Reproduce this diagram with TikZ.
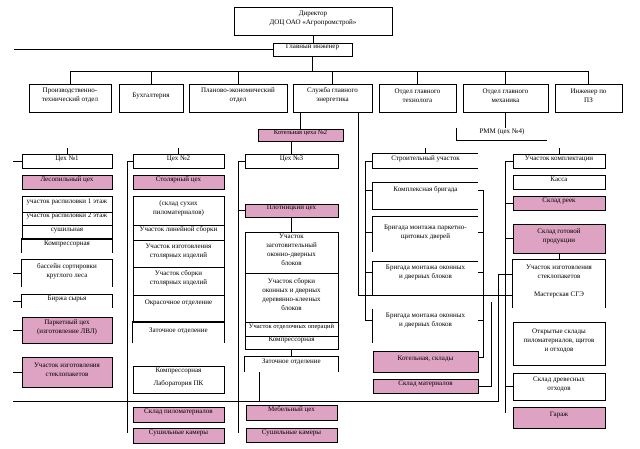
\documentclass[tikz,border=0pt]{standalone}
\usepackage{fontspec}
\setmainfont{Liberation Serif}
\usetikzlibrary{fit}
\definecolor{pinkbox}{RGB}{222,162,194}
\newcommand\opnbot[1]{\draw (#1.south west) -- (#1.north west) -- (#1.north east) -- (#1.south east);}
\newcommand\opnright[1]{\draw (#1.north east) -- (#1.north west) -- (#1.south west) -- (#1.south east);}
\newcommand\opnrb[1]{\draw (#1.north east) -- (#1.north west) -- (#1.south west);}
\newcommand\lside[1]{\draw (#1.north west) -- (#1.south west);}
\begin{document}
\begin{tikzpicture}[x=1pt,y=-1pt,line width=0.85pt,
  font=\fontsize{7}{9}\selectfont,
  bx/.style={draw,fill=white,inner sep=0pt,align=center},
  pk/.style={bx,fill=pinkbox},
  nb/.style={inner sep=0pt,align=center},
  tx/.style={inner sep=0pt,align=center}]
\fill[white] (0,0) rectangle (640,448);
\useasboundingbox (0,0) rectangle (640,448);

% ---------- top ----------
\node[bx,fit={(234,7)(392,35)}] (dir) {Директор\\ДОЦ ОАО «Агропромстрой»};
\node[bx,fit={(273,43)(352,56)}] (gi) {Главный инженер};

\node[bx,fit={(29,84)(111,112)}] (pto) {Производственно-\\технический отдел};
\node[bx,fit={(119,84)(183,112)}] (buh) {Бухгалтерия};
\node[bx,fit={(189,84)(287,112)}] (peo) {Планово-экономический\\отдел};
\node[bx,fit={(293,84)(372,112)}] (sge) {Служба главного\\энергетика};
\node[bx,fit={(379,84)(456,112)}] (ogt) {Отдел главного\\технолога};
\node[bx,fit={(463,84)(548,112)}] (ogm) {Отдел главного\\механика};
\node[bx,fit={(555,84)(622,112)}] (ipz) {Инженер по\\ПЗ};

\coordinate (busy) at (0,71);
\coordinate (lft) at (14,49);
\draw (dir.south) -- (dir.south |- gi.north);
\draw (gi.south) -- (gi.south |- busy);
\draw (gi.west) -- (gi.west -| lft);
\draw (pto.north) -- (pto.north |- busy) -- (ipz.north |- busy) -- (ipz.north);
\foreach \n in {buh,peo,sge,ogt,ogm} \draw (\n.north) -- (\n.north |- busy);

% ---------- column 1 ----------
\node[bx,fit={(22,154)(112,168)}] (c1) {Цех №1};
\node[pk,fit={(22,175)(112,189)}] (les) {Лесопильный цех};
\node[bx,fit={(22,196)(112,212)}] (r11) {участок распиловки 1 этаж};
\node[bx,fit={(22,212)(112,225)}] (r12) {участок распиловки 2 этаж};
\node[bx,fit={(22,225)(112,239)}] (r13) {сушильная};
\node[nb,fit={(22,239)(112,253)}] (r14) {Компрессорная};
\opnbot{r14}
\node[nb,fit={(22,260)(112,287)}] (bas) {бассейн сортировки\\круглого леса};
\opnbot{bas}
\node[nb,fit={(22,295)(112,308)}] (bir) {Биржа сырья};
\opnbot{bir}
\node[pk,fit={(22,317)(112,343)}] (park) {Паркетный цех\\(изготовление ЛВЛ)};
\node[pk,fit={(22,357)(112,387)}] (stp1) {Участок изготовления\\стеклопакетов};

\coordinate (lb) at (13,0);
\draw (c1.north) -- ++(0,-6);
\foreach \n in {c1,bas,bir,park,stp1} \draw (\n.west) -- (\n.west -| lb);

% ---------- column 2 ----------
\node[bx,fit={(133,154)(224,168)}] (c2) {Цех №2};
\node[pk,fit={(133,175)(224,189)}] (stol) {Столярный цех};
\node[bx,fit={(133,196)(224,225)}] (g21) {(склад сухих\\пиломатериалов)};
\node[bx,fit={(133,225)(224,240)}] (g22) {Участок линейной сборки};
\node[bx,fit={(133,240)(224,267)}] (g23) {Участок изготовления\\столярных изделий};
\node[bx,fit={(133,267)(224,295)}] (g24) {Участок сборки\\столярных изделий};
\node[bx,fit={(133,295)(224,322)}] (g25) {};
\node[tx] (g25t) at (178.5,303) {Окрасочное отделение};
\node[nb,fit={(133,322)(224,343)}] (g26) {};
\opnbot{g26}
\node[tx] (g26t) at (178.5,331) {Заточное отделение};
\node[bx,fit={(133,366)(224,393)}] (komp2) {Компрессорная\\[4pt]Лаборатория ПК};
\node[pk,fit={(133,407)(224,422)}] (skp) {Склад пиломатериалов};
\node[pk,fit={(133,428)(224,443)}] (sus2) {Сушильные камеры};

\coordinate (b2end) at (127,433);
\draw (c2.north) -- ++(0,-6);
\draw (c2.west) -- (c2.west -| b2end) -- (b2end);

% ---------- column 3 ----------
\node[pk,fit={(258,129)(343,141)},font=\fontsize{6.5}{8}\selectfont] (kot2) {Котельная цеха №2};
\node[bx,fit={(245,154)(338,168)}] (c3) {Цех №3};
\node[pk,fit={(245,204)(338,217)}] (plot) {Плотницкий цех};
\node[bx,fit={(245,232)(338,273)}] (g31) {Участок\\заготовительный\\оконно-дверных\\блоков};
\node[bx,fit={(245,273)(338,322)}] (g32) {Участок сборки\\оконных и дверных\\деревянно-клееных\\блоков};
\node[bx,fit={(245,322)(338,336)},font=\fontsize{6.5}{9}\selectfont] (g33) {Участок отделочных операций};
\node[bx,fit={(245,336)(338,349)}] (g34) {Компрессорная};
\node[nb,fit={(245,357)(338,372)}] (zat3) {Заточное отделение};
\opnbot{zat3}
\node[pk,fit={(246,405)(337,420)}] (meb) {Мебельный цех};
\node[pk,fit={(246,428)(337,442)}] (sus3) {Сушильные камеры};

\coordinate (b3end) at (238,433);
\coordinate (zb) at (259,401);
\draw (kot2.north) -- (kot2.north |- sge.south);
\draw (c3.north) -- (c3.north |- kot2.south);
\draw (c3.west) -- (c3.west -| b3end) -- (b3end);
\draw (plot.west) -- (plot.west -| b3end);
\draw (plot.south) -- (plot.south |- g31.north);
\draw (g34.south) -- (g34.south |- zat3.north);
\draw (zb |- zat3.south) -- (zb);

% ---------- column 4 ----------
\node[nb,fit={(373,154)(478,168)}] (str) {Строительный участок};
\opnright{str}
\node[nb,fit={(373,183)(478,209)}] (kb) {};
\opnright{kb}
\node[tx] (kbt) at (425.5,190) {Комплексная бригада};
\node[nb,fit={(373,217)(478,252)}] (bp) {};
\opnrb{bp}
\node[tx] (bpt) at (425.5,232) {Бригада монтажа паркетно-\\щитовых дверей};
\node[nb,fit={(373,262)(478,295)}] (bo1) {};
\opnright{bo1}
\node[tx] (bo1t) at (425.5,272) {Бригада монтажа оконных\\и дверных блоков};
\node[nb,fit={(373,309)(478,343)}] (bo2) {};
\lside{bo2}
\node[tx] (bo2t) at (425.5,320) {Бригада монтажа оконных\\и дверных блоков};
\node[pk,fit={(373,351)(478,372)}] (kots) {Котельная, склады};
\node[pk,fit={(373,379)(478,393)}] (skm) {Склад материалов};

\coordinate (Fx) at (365,0);
\coordinate (Ax) at (483,0);
\draw (str.north) -- ++(0,-6);
\draw (str.west) -- (str.west -| Fx) |- (bo2t -| bo2.west);
\foreach \t/\b in {kbt/kb,bpt/bp,bo1t/bo1} \draw (\t -| \b.west) -- (\t -| Fx);
\draw (kbt -| kb.east) -- (kbt -| Ax) |- ([yshift=4pt]kots.east);
\foreach \t/\b in {bpt/bp,bo1t/bo1,bo2t/bo2} \draw (\t -| \b.east) -- (\t -| Ax);

% ---------- column 5 ----------
\node[nb,fit={(457,128)(547,140)}] (rmm) {РММ (цех №4)};
\draw (rmm.north west) |- (rmm.south east);
\draw (ogm.south) -- (ogm.south |- rmm.north);

\node[bx,fit={(513,154)(605,168)}] (uk) {Участок комплектации};
\node[bx,fit={(513,175)(605,189)}] (kas) {Касса};
\node[pk,fit={(513,196)(605,210)}] (skr) {Склад реек};
\node[pk,fit={(513,224)(605,253)}] (sgp) {Склад готовой\\продукции};
\node[nb,fit={(513,260)(605,308)}] (stp2) {};
\opnbot{stp2}
\node[tx] (stp2t) at (559,272) {Участок изготовления\\стеклопакетов};
\node[tx] (msg) at (559,295) {Мастерская СГЭ};
\node[bx,fit={(513,322)(605,365)}] (otk) {Открытые склады\\пиломатериалов, щитов\\и отходов};
\node[bx,fit={(513,373)(605,400)}] (sdo) {Склад древесных\\отходов};
\node[pk,fit={(513,407)(605,428)}] (gar) {Гараж};

\coordinate (Ex) at (505,0);
\coordinate (Eend) at (505,413);
\coordinate (Bc) at (498,401);
\coordinate (Bl) at (13,401);
\coordinate (Cc) at (491,302);
\draw (uk.north) -- ++(0,-6);
\draw (sgp.south) -- (stp2.north);
\draw (uk.west) -- (uk.west -| Ex) -- (Eend);
\foreach \n in {skr,sgp,sdo} \draw (\n.west) -- (\n.west -| Ex);
% long bottom line
\draw ([yshift=10pt]stp2.west) -| (Bc) -- (Bl);
% line from energy service to workshop
\draw ([xshift=25.5pt]sge.south) |- (msg -| stp2.west);
\draw (Cc) |- (skm.east);
\end{tikzpicture}
\end{document}
